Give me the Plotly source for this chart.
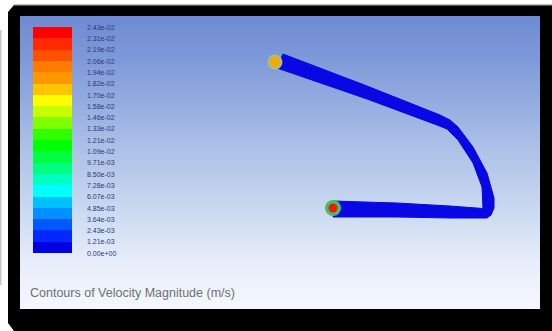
import plotly.graph_objects as go

W, H = 552, 331
labels = ["2.43e-02","2.31e-02","2.19e-02","2.06e-02","1.94e-02","1.82e-02","1.70e-02",
          "1.58e-02","1.46e-02","1.33e-02","1.21e-02","1.09e-02","9.71e-03","8.50e-03",
          "7.28e-03","6.07e-03","4.85e-03","3.64e-03","2.43e-03","1.21e-03","0.00e+00"]
band_colors = ["#ff0000","#ff2a00","#ff5000","#ff7a00","#ff9800","#ffc400","#ffff00","#c8ff00",
               "#80ff00","#30ff00","#00ff00","#00ff40","#00ff80","#00ffc0","#00ffff","#00c0ff",
               "#0090ff","#0058ff","#0028ff","#0000e0"]
label_y = [28 + 11.3*i for i in range(21)]

bg_top, bg_bottom = 16, 309
bg_stops = [0.0, 0.15, 0.29, 0.42, 0.56, 0.70, 0.83, 1.0]
bg_colors = ["#6d8ad3","#7f9ad9","#93abe0","#a8bde6","#bccdec","#d0def3","#e6ecf9","#f5f8fd"]

pipe_x = [283,367,440,450,458,473,487,494,494,491,487,450,397,333,333,397,450,483,482,473,458,447,437,367,277]
pipe_y = [54,86,115,120,127,147,173,198,208,215,218,218,217,217,201,203,206,208.5,187,163,140,129,125,99,68]

inlet_x = [275, 333]
inlet_y = [62, 208]
ring_colors = ["#8cc8a8", "#48c060"]
core_colors = ["#eeaa10", "#e81c10"]
ring_sizes = [15, 16]
core_sizes = [12, 9]

fig = go.Figure()
shapes = [
    dict(type="path", path="M14 5 L552 5 L552 331 L14 331 L8 323 L8 12 Z",
         fillcolor="black", line=dict(width=0), layer="below"),
    dict(type="rect", x0=14, x1=552, y0=4, y1=5.5, fillcolor="#b8b8b8",
         line=dict(width=0), layer="below"),
    dict(type="rect", x0=0, x1=1.5, y0=30, y1=285, fillcolor="#c8c8c8",
         line=dict(width=0), layer="below"),
]

# Background gradient
bg_edges = list(range(bg_top, bg_bottom + 1))
fig.add_trace(go.Heatmap(x=[20, 540], y=bg_edges, z=[[y + 0.5] for y in bg_edges[:-1]],
                         zmin=bg_top, zmax=bg_bottom, showscale=False, hoverinfo="skip",
                         colorscale=[[s, c] for s, c in zip(bg_stops, bg_colors)]))

# Colour bar bands
n = len(band_colors)
band_edges = [y - 1 for y in label_y]
scale = []
for i, c in enumerate(reversed(band_colors)):
    scale += [[i/n, c], [(i+1)/n, c]]
fig.add_trace(go.Heatmap(x=[33, 72], y=band_edges, z=[[n-1-i+0.5] for i in range(n)],
                         zmin=0, zmax=n, colorscale=scale, showscale=False, hoverinfo="skip"))

fig.add_trace(go.Scatter(x=[87]*21, y=label_y, mode="text", text=labels, textposition="middle right",
                         textfont=dict(family="Liberation Sans", size=7, color="#2a3a78"),
                         hoverinfo="skip"))
fig.add_trace(go.Scatter(x=pipe_x+pipe_x[:1], y=pipe_y+pipe_y[:1], mode="lines", fill="toself",
                         fillcolor="#0808e4", line=dict(color="#0808e4", width=1), hoverinfo="skip"))
fig.add_trace(go.Scatter(x=inlet_x, y=inlet_y, mode="markers",
                         marker=dict(size=ring_sizes, color=ring_colors, opacity=1, line=dict(width=0)), hoverinfo="skip"))
fig.add_trace(go.Scatter(x=inlet_x, y=inlet_y, mode="markers",
                         marker=dict(size=core_sizes, color=core_colors, opacity=1, line=dict(width=0)), hoverinfo="skip"))
fig.add_annotation(x=28, y=293, xref="x", yref="y", xanchor="left", yanchor="middle", showarrow=False,
                   text="Contours of Velocity Magnitude (m/s)",
                   font=dict(family="Liberation Sans", size=12.5, color="#6b7078"))

fig.update_layout(width=W, height=H, margin=dict(l=0, r=0, t=0, b=0), showlegend=False,
                  paper_bgcolor="white", plot_bgcolor="white", shapes=shapes,
                  xaxis=dict(range=[0, W], visible=False, fixedrange=True),
                  yaxis=dict(range=[H, 0], visible=False, fixedrange=True))
fig.write_html("out.html", config=dict(displayModeBar=False), default_width=W, default_height=H,
               post_script="document.body.style.margin='0';document.documentElement.style.overflow='hidden';")
